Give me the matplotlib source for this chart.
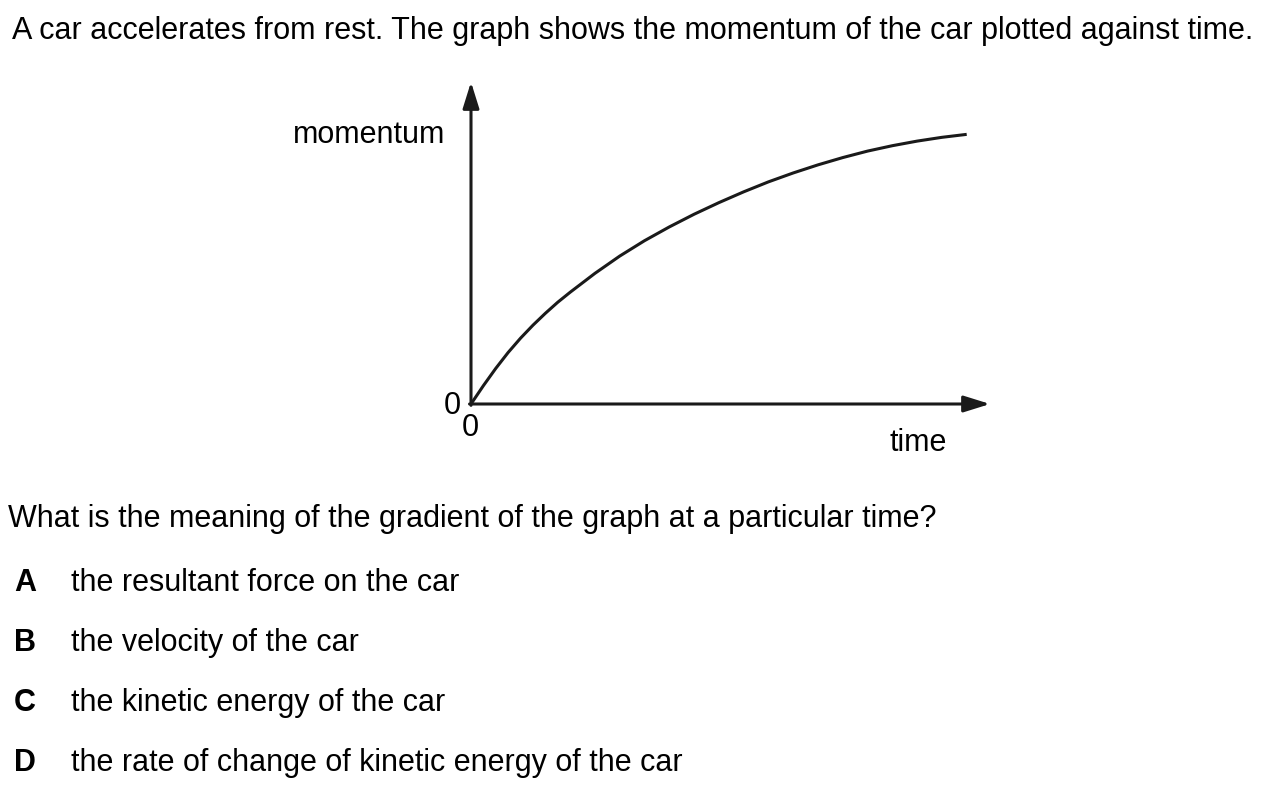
import numpy as np
import matplotlib.pyplot as plt

plt.rcParams['font.family'] = ['Liberation Sans', 'DejaVu Sans']

# curve (arbitrary units)
time = [0, 0.25, 0.5, 0.75, 1.0, 1.25, 1.5, 1.75, 2.0, 2.5, 3.0, 3.5, 4.0, 4.5, 5.0,
        5.5, 6.0, 6.5, 7.0, 7.5, 8.0, 8.5, 9.0, 9.5, 10.0]
momentum = [0, 0.68, 1.32, 1.91, 2.44, 2.92, 3.36, 3.77, 4.14, 4.84, 5.48, 6.05, 6.56,
            7.03, 7.46, 7.86, 8.23, 8.56, 8.86, 9.13, 9.37, 9.57, 9.74, 9.88, 9.99]

title = "A car accelerates from rest. The graph shows the momentum of the car plotted against time."
question = "What is the meaning of the gradient of the graph at a particular time?"
letters = ["A", "B", "C", "D"]
options = ["the resultant force on the car",
           "the velocity of the car",
           "the kinetic energy of the car",
           "the rate of change of kinetic energy of the car"]

W, H = 1271, 787
fig = plt.figure(figsize=(W / 100, H / 100), dpi=100)
ink = '#1a1a1a'

# graph area: origin at (471, 404) px, x arrow tip at 990, y arrow tip at 82
x0, y0, x1, y1 = 471, 404, 990, 82
ax = fig.add_axes([x0 / W, 1 - y0 / H, (x1 - x0) / W, (y0 - y1) / H])
xmax, ymax = 10.47, 11.93
ax.set_xlim(0, xmax)
ax.set_ylim(0, ymax)
ax.axis('off')

arrow = dict(arrowstyle='-|>,head_length=0.8,head_width=0.25', lw=2.2,
             color=ink, shrinkA=0, shrinkB=0, mutation_scale=20)
ax.annotate('', xy=(xmax, 0), xytext=(-0.03, 0), arrowprops=arrow, annotation_clip=False)
ax.annotate('', xy=(0, ymax), xytext=(0, -0.05), arrowprops=arrow, annotation_clip=False)

ax.plot(time, momentum, color=ink, lw=2.2, clip_on=False, solid_capstyle='butt',
        solid_joinstyle='round')

fs = 22
def px(x, y):
    return x / W, 1 - y / H

fig.text(*px(12, 39), title, fontsize=fs, va='baseline', ha='left')
fig.text(*px(445, 143), "momentum", fontsize=fs, va='baseline', ha='right')
fig.text(*px(918, 451), "time", fontsize=fs, va='baseline', ha='center')
fig.text(*px(452, 406), "0", fontsize=fs, va='center', ha='center')
fig.text(*px(470, 428), "0", fontsize=fs, va='center', ha='center')
fig.text(*px(8, 527), question, fontsize=fs, va='baseline', ha='left')

for i, (l, o) in enumerate(zip(letters, options)):
    yb = 591 + 60 * i
    fig.text(*px(14, yb), l, fontsize=fs, va='baseline', ha='left', fontweight='bold')
    fig.text(*px(71, yb), o, fontsize=fs, va='baseline', ha='left')

fig.savefig('out.png', dpi=100)
